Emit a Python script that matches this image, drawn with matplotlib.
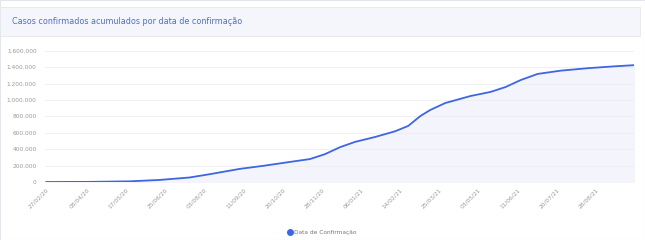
import numpy as np
import pandas as pd
import matplotlib
matplotlib.use('Agg')
import matplotlib.pyplot as plt
import matplotlib.dates as mdates
from matplotlib.ticker import FuncFormatter, MultipleLocator
from matplotlib.patches import Rectangle
from matplotlib.lines import Line2D

# cumulative confirmed cases
dates = ['2020-02-27', '2020-04-10', '2020-05-20', '2020-06-19', '2020-07-19', '2020-08-08',
         '2020-09-07', '2020-10-02', '2020-10-27', '2020-11-16', '2020-12-01', '2020-12-16',
         '2020-12-31', '2021-01-20', '2021-02-09', '2021-02-22', '2021-03-06', '2021-03-16',
         '2021-03-31', '2021-04-25', '2021-05-15', '2021-05-30', '2021-06-14', '2021-07-01',
         '2021-07-24', '2021-08-20', '2021-09-12', '2021-10-05']
casos = [0, 1500, 8000, 25000, 55000, 95000,
         160000, 200000, 245000, 280000, 340000, 425000,
         490000, 550000, 620000, 685000, 805000, 880000,
         965000, 1050000, 1100000, 1160000, 1245000, 1320000,
         1360000, 1390000, 1410000, 1427000]

tick_labels = ['27/02/20', '08/04/20', '17/05/20', '25/06/20', '03/08/20', '11/09/20',
               '20/10/20', '28/11/20', '06/01/21', '14/02/21', '25/03/21', '03/05/21',
               '11/06/21', '20/07/21', '28/08/21']

titulo = 'Casos confirmados acumulados por data de confirmação'
serie = 'Data de Confirmação'

x = pd.to_datetime(dates)
ticks = pd.to_datetime(tick_labels, format='%d/%m/%y')

blue = '#3d66e0'
W, H = 645, 240
fig = plt.figure(figsize=(W / 100, H / 100), dpi=100)

# card border and title band
fig.patches.append(Rectangle((0, 0), 1, 1, transform=fig.transFigure, facecolor='white',
                             edgecolor='#e4e6ee', linewidth=0.8, zorder=-2))
fig.patches.append(Rectangle((0, 1 - 36 / H), 640 / W, 29 / H, transform=fig.transFigure,
                             facecolor='#f5f6fb', edgecolor='#e6e8f0', linewidth=0.6, zorder=-1))
fig.text(12 / W, 1 - 22 / H, titulo, color='#4a6ed8', fontsize=5.8, va='center', ha='left')

ax = fig.add_axes([45 / W, 1 - 182 / H, (634 - 45) / W, (182 - 51) / H])
ax.plot(x, casos, color=blue, linewidth=1.3, solid_capstyle='round')
ax.fill_between(x, casos, 0, color='#f3f4fc', zorder=0)

ax.set_ylim(0, 1600000)
ax.set_xlim(x[0] - pd.Timedelta(days=1), x[-1])
ax.yaxis.set_major_locator(MultipleLocator(200000))
ax.yaxis.set_major_formatter(FuncFormatter(lambda v, p: f'{int(v):,}'.replace(',', '.')))
ax.set_xticks(ticks)
ax.set_xticklabels(tick_labels, rotation=45, ha='right', rotation_mode='anchor')

ax.grid(axis='y', color='#eeeeee', linewidth=0.6)
ax.set_axisbelow(True)
for s in ax.spines.values():
    s.set_visible(False)
ax.tick_params(axis='both', length=0, labelsize=4.2, labelcolor='#9a9a9a')
ax.tick_params(axis='y', pad=6)
ax.tick_params(axis='x', pad=4)

handle = Line2D([], [], marker='o', linestyle='none', color=blue, markersize=4)
fig.legend([handle], [serie], loc='center', bbox_to_anchor=(322 / W, 1 - 232 / H),
           frameon=False, fontsize=4.2, labelcolor='#777777', handletextpad=0.1,
           borderpad=0, handlelength=1)

fig.savefig('out.png', dpi=100)
